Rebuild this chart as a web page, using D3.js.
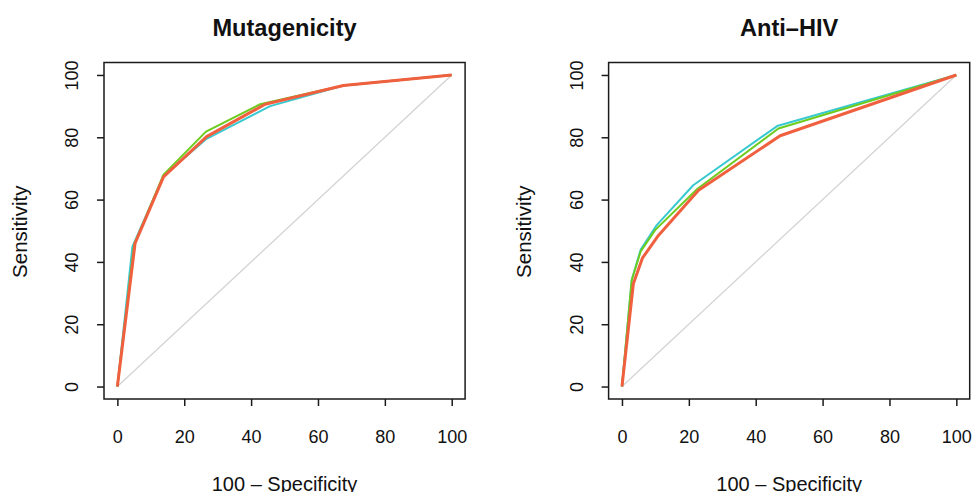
<!DOCTYPE html>
<html>
<head>
<meta charset="utf-8">
<script src="https://cdn.jsdelivr.net/npm/d3@7"></script>
<style>
  html, body { margin: 0; padding: 0; background: #fff; }
  svg { display: block; font-family: "Liberation Sans", Arial, Helvetica, sans-serif; }
</style>
</head>
<body>
<svg id="chart" width="972" height="492"></svg>
<script>
// ROC curves: 100 - Specificity (x) against Sensitivity (y), three models per endpoint
const panelTitles = ["Mutagenicity", "Anti\u2013HIV"];
const tickValues = [0, 20, 40, 60, 80, 100];
const seriesColors = ["#38c9d0", "#6dcc1e", "#f0603f"];

// Mutagenicity
const mutaCyanX  = [0, 4.5, 13.8, 26.5, 45.7, 67.6, 100];
const mutaCyanY  = [0, 44.9, 67.6, 79.4, 90.0, 96.6, 100];
const mutaGreenX = [0, 5.0, 13.8, 26.5, 42.7, 67.6, 100];
const mutaGreenY = [0, 45.5, 68.0, 81.8, 90.6, 96.6, 100];
const mutaRedX   = [0, 5.3, 13.8, 26.7, 44.2, 67.6, 100];
const mutaRedY   = [0, 46.0, 67.3, 80.2, 90.6, 96.6, 100];

// Anti-HIV
const hivCyanX  = [0, 2.9, 5.6, 10.4, 21.3, 46.4, 100];
const hivCyanY  = [0, 34.1, 44.0, 51.8, 64.6, 83.6, 100];
const hivGreenX = [0, 2.9, 5.6, 9.9, 22.5, 46.8, 100];
const hivGreenY = [0, 34.1, 43.4, 50.2, 63.4, 82.8, 100];
const hivRedX   = [0, 3.4, 6.1, 10.9, 22.9, 47.3, 100];
const hivRedY   = [0, 33.0, 41.2, 48.5, 63.0, 80.5, 100];

const panels = [
  { title: panelTitles[0], left: 104, series: [[mutaCyanX, mutaCyanY], [mutaGreenX, mutaGreenY], [mutaRedX, mutaRedY]] },
  { title: panelTitles[1], left: 608.6, series: [[hivCyanX, hivCyanY], [hivGreenX, hivGreenY], [hivRedX, hivRedY]] }
];

const svg = d3.select("#chart");
const plotW = 361.1, plotTop = 62.5, plotBottom = 399;
const lineWidths = [2, 2, 3];

panels.forEach(p => {
  const x = d3.scaleLinear().domain([-4, 104]).range([p.left, p.left + plotW]);
  const y = d3.scaleLinear().domain([-4, 104]).range([plotBottom, plotTop]);
  const g = svg.append("g");
  const cx = p.left + plotW / 2;

  // chance diagonal
  g.append("line")
    .attr("x1", x(0)).attr("y1", y(0)).attr("x2", x(100)).attr("y2", y(100))
    .attr("stroke", "#d3d3d3").attr("stroke-width", 1.3);

  const line = d3.line().x(d => x(d[0])).y(d => y(d[1]));
  p.series.forEach((s, i) => {
    const pts = s[0].map((v, k) => [v, s[1][k]]);
    g.append("path").datum(pts)
      .attr("d", line)
      .attr("fill", "none")
      .attr("stroke", seriesColors[i])
      .attr("stroke-width", lineWidths[i])
      .attr("stroke-linejoin", "round");
  });

  // frame
  g.append("rect")
    .attr("x", p.left).attr("y", plotTop)
    .attr("width", plotW).attr("height", plotBottom - plotTop)
    .attr("fill", "none").attr("stroke", "#1a1a1a").attr("stroke-width", 1.5);

  // x axis
  const xa = g.append("g").attr("transform", `translate(0,${plotBottom})`)
    .call(d3.axisBottom(x).tickValues(tickValues).tickSize(7).tickFormat(d3.format("d")));
  xa.select(".domain").remove();
  xa.selectAll(".tick line").attr("stroke", "#1a1a1a").attr("stroke-width", 1.5);
  xa.selectAll(".tick text")
    .attr("y", 43.7).attr("dy", 0)
    .attr("fill", "#111").style("font-size", "18px");

  // y axis
  const ya = g.append("g").attr("transform", `translate(${p.left},0)`)
    .call(d3.axisLeft(y).tickValues(tickValues).tickSize(7).tickFormat(d3.format("d")));
  ya.select(".domain").remove();
  ya.selectAll(".tick line").attr("stroke", "#1a1a1a").attr("stroke-width", 1.5);
  ya.selectAll(".tick text")
    .attr("x", 0).attr("dy", 0)
    .attr("transform", "translate(-26,0) rotate(-90)")
    .attr("text-anchor", "middle")
    .attr("fill", "#111").style("font-size", "18px");

  // titles
  g.append("text")
    .attr("x", cx).attr("y", 36)
    .attr("text-anchor", "middle")
    .style("font-size", "23.6px").style("font-weight", "bold")
    .attr("fill", "#111")
    .text(p.title);

  g.append("text")
    .attr("x", cx).attr("y", 491)
    .attr("text-anchor", "middle")
    .style("font-size", "20px")
    .attr("fill", "#111")
    .text("100 \u2013 Specificity");

  g.append("text")
    .attr("transform", `translate(${p.left - 77.5},${(plotTop + plotBottom) / 2 + 1}) rotate(-90)`)
    .attr("text-anchor", "middle")
    .style("font-size", "20.5px")
    .attr("fill", "#111")
    .text("Sensitivity");
});
</script>
</body>
</html>
